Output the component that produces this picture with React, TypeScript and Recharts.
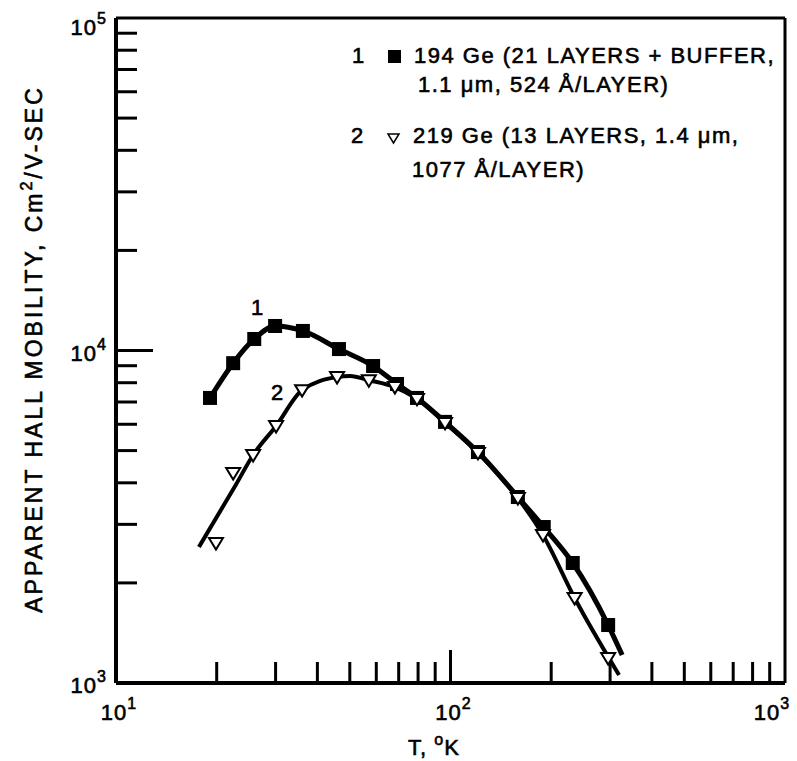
import React from 'react'
import { ComposedChart, Line, Scatter, XAxis, YAxis, ReferenceLine } from 'recharts'

// sample 194 Ge (filled squares)
const t1 = [19.1, 22.4, 25.9, 29.9, 36.2, 46.4, 58.7, 69.2, 79.4, 96.3, 120.8, 159, 190, 232, 296]
const mu1 = [7200, 9160, 10830, 11850, 11450, 10100, 8980, 7930, 7200, 6100, 4950, 3625, 2945, 2296, 1494]
// sample 219 Ge (open triangles)
const t2 = [19.9, 22.4, 25.7, 30.1, 36.0, 45.8, 57.0, 68.2, 79.4, 96.3, 120.8, 159, 189, 235, 296]
const mu2 = [2636, 4281, 4850, 5930, 7600, 8320, 8140, 7760, 7150, 6055, 4920, 3600, 2786, 1801, 1189]
// drawn curves through the points
const fit1T = [19.1, 22.4, 25.9, 29.9, 36.2, 46.4, 58.7, 69.2, 79.4, 96.3, 120.8, 159, 190, 232, 296, 326]
const fit1Mu = [7200, 9160, 10830, 11850, 11450, 10100, 8980, 7930, 7200, 6100, 4950, 3625, 2945, 2296, 1494, 1214]
const fit2T = [17.7, 22.8, 25.7, 30.1, 36.0, 45.8, 50.1, 57.0, 68.2, 79.4, 96.3, 120.8, 159, 189, 235, 319]
const fit2Mu = [2565, 3940, 4850, 5930, 7600, 8320, 8380, 8140, 7760, 7150, 6055, 4920, 3600, 2786, 1801, 1057]

const xLabelTicks = [10, 100, 1000]
const yLabelTicks = [1000, 10000, 100000]
const xMinor = [20, 30, 40, 50, 60, 70, 80, 90, 200, 300, 400, 500, 600, 700, 800, 900]
const xMajor = [100]
const yMinor = [2000, 3000, 4000, 5000, 6000, 7000, 8000, 9000, 20000, 30000, 40000, 50000, 60000, 70000, 80000, 90000]
const yMajor = [10000]

const zip = (ts: number[], ms: number[]) => ts.map((t, i) => ({ t, mu: ms[i] }))

const FONT = '"Liberation Sans", Arial, Helvetica, sans-serif'
const W = 797
const H = 761

function XTick({ x, y, payload }: any) {
  const exp = Math.round(Math.log10(payload.value))
  // keep the last label inside the picture
  const cx = Math.min(x + 3, W - 25)
  return (
    <text x={cx} y={y + 37} textAnchor="middle" fontSize={22} letterSpacing={1} fontFamily={FONT}
      fill="#000" stroke="#000" strokeWidth={0.6}>
      10<tspan dy={-11} fontSize={16}>{exp}</tspan>
    </text>
  )
}

function YTick({ x, y, payload }: any) {
  const exp = Math.round(Math.log10(payload.value))
  return (
    <text x={x - 9} y={Math.max(y + 10, 35)} textAnchor="end" fontSize={22} letterSpacing={1} fontFamily={FONT}
      fill="#000" stroke="#000" strokeWidth={0.6}>
      10<tspan dy={-11} fontSize={16}>{exp}</tspan>
    </text>
  )
}

const xTickShape = (len: number) => (p: any) => {
  const yb = Math.max(p.y1, p.y2)
  return <line x1={p.x1} x2={p.x1} y1={yb} y2={yb - len} stroke="#000" strokeWidth={3} />
}
const yTickShape = (len: number) => (p: any) => {
  const xl = Math.min(p.x1, p.x2)
  return <line x1={xl} x2={xl + len} y1={p.y1} y2={p.y1} stroke="#000" strokeWidth={3} />
}

function Square({ cx, cy }: any) {
  return <rect x={cx - 7} y={cy - 7} width={14} height={14} fill="#000" />
}
function Tri({ cx, cy }: any) {
  return (
    <polygon
      points={`${cx - 7},${cy - 5} ${cx + 7},${cy - 5} ${cx},${cy + 6.5}`}
      fill="#fff" stroke="#000" strokeWidth={2}
    />
  )
}

const txt = { fontFamily: FONT, fontSize: 22, fill: '#000', stroke: '#000', strokeWidth: 0.6 } as const

export default function App() {
  return (
    <div style={{ position: 'absolute', left: 0, top: 0, width: W, height: H, background: '#fff' }}>
      <ComposedChart width={W} height={H} margin={{ top: 18, right: 12, left: 0, bottom: 0 }}>
        <XAxis
          dataKey="t" type="number" scale="log" domain={[10, 1000]} allowDataOverflow
          ticks={xLabelTicks} tick={<XTick />} tickLine={false} tickSize={0} tickMargin={0}
          height={78} axisLine={{ stroke: '#000', strokeWidth: 4 }}
        />
        <YAxis
          dataKey="mu" type="number" scale="log" domain={[1000, 100000]} allowDataOverflow
          ticks={yLabelTicks} tick={<YTick />} tickLine={false} tickSize={0} tickMargin={0}
          width={116} axisLine={{ stroke: '#000', strokeWidth: 4 }}
        />
        <ReferenceLine y={100000} stroke="#000" strokeWidth={3} ifOverflow="visible" />
        <ReferenceLine x={1000} stroke="#000" strokeWidth={3} ifOverflow="visible" />
        {xMinor.map((v) => <ReferenceLine key={'xm' + v} x={v} shape={xTickShape(21)} />)}
        {xMajor.map((v) => <ReferenceLine key={'xM' + v} x={v} shape={xTickShape(33)} />)}
        {yMinor.map((v) => <ReferenceLine key={'ym' + v} y={v} shape={yTickShape(21)} />)}
        {yMajor.map((v) => <ReferenceLine key={'yM' + v} y={v} shape={yTickShape(37)} />)}
        <Line data={zip(fit1T, fit1Mu)} dataKey="mu" type="monotone" stroke="#000" strokeWidth={5}
          dot={false} activeDot={false} isAnimationActive={false} />
        <Line data={zip(fit2T, fit2Mu)} dataKey="mu" type="monotone" stroke="#000" strokeWidth={4}
          dot={false} activeDot={false} isAnimationActive={false} />
        <Scatter data={zip(t1, mu1)} shape={<Square />} isAnimationActive={false} />
        <Scatter data={zip(t2, mu2)} shape={<Tri />} isAnimationActive={false} />
      </ComposedChart>

      <svg width={W} height={H} style={{ position: 'absolute', left: 0, top: 0, pointerEvents: 'none' }}>
        {/* curve labels */}
        <text x={251} y={315} {...txt}>1</text>
        <text x={271} y={400} {...txt}>2</text>

        {/* legend */}
        <text x={352} y={63} {...txt}>1</text>
        <rect x={388} y={50} width={13} height={13} fill="#000" />
        <text x={414} y={63} {...txt} letterSpacing={1.5}>194 Ge (21 LAYERS + BUFFER,</text>
        <text x={418} y={92} {...txt} letterSpacing={1.5}>1.1 μm, 524 Å/LAYER)</text>
        <text x={351} y={143} {...txt}>2</text>
        <polygon points="388,134 399,134 393.5,143" fill="#fff" stroke="#000" strokeWidth={1.5} />
        <text x={413} y={143} {...txt} letterSpacing={1.5}>219 Ge (13 LAYERS, 1.4 μm,</text>
        <text x={412} y={177} {...txt} letterSpacing={1.5}>1077 Å/LAYER)</text>

        {/* axis titles */}
        <text x={434} y={755} textAnchor="middle" {...txt} letterSpacing={1}>
          T, <tspan dy={-10} fontSize={16}>o</tspan><tspan dy={10}>K</tspan>
        </text>
        <g transform="translate(42,349) rotate(-90)">
          <text x={0} y={0} textAnchor="middle" {...txt} fontSize={23} letterSpacing={3}>
            APPARENT HALL MOBILITY, Cm<tspan dy={-10} fontSize={16}>2</tspan><tspan dy={10}>/V-SEC</tspan>
          </text>
        </g>
      </svg>
    </div>
  )
}
